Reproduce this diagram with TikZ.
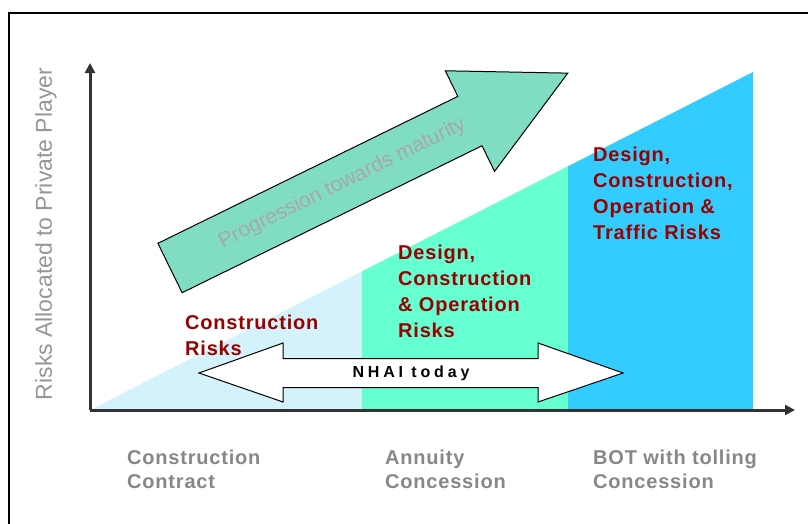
\documentclass[tikz,border=0pt]{standalone}
\usepackage{fontspec}
\setmainfont{Liberation Sans}
\newfontfamily\riskfont[LetterSpace=4]{Liberation Sans}
\newfontfamily\todayfont[LetterSpace=24]{Liberation Sans}
\usepackage{xcolor}
\usetikzlibrary{arrows.meta,calc}

\definecolor{riskred}{RGB}{153,0,0}
\definecolor{lightcyan}{RGB}{212,242,252}
\definecolor{seagreen}{RGB}{102,255,210}
\definecolor{skyblue}{RGB}{51,204,255}
\definecolor{arrowgreen}{RGB}{128,220,195}
\definecolor{axisgray}{RGB}{51,51,51}
\definecolor{schemegray}{RGB}{135,135,135}
\definecolor{ylabelgray}{RGB}{150,150,150}
\definecolor{progray}{RGB}{168,168,168}

\begin{document}
\begin{tikzpicture}[x=1pt,y=1pt,
  risk/.style={anchor=north west,inner sep=0pt,align=left,text=riskred,
    font=\riskfont\bfseries\fontsize{20}{26}\selectfont},
  scheme/.style={anchor=north west,inner sep=0pt,align=left,text=schemegray,
    font=\riskfont\bfseries\fontsize{20}{24}\selectfont},
  axis/.style={axisgray,line width=3pt,-{Triangle[length=10pt,width=10pt]}}]
\useasboundingbox (0,0) rectangle (808,-523);
\clip (0,0) rectangle (808,-523);
\draw [black,line width=1.5pt] (9,-13) rectangle (840,-560);
\coordinate (o) at (90,-410);
\coordinate (peak) at (753,-72);
\coordinate (s1) at ($(o)!0.41!(peak)$);
\coordinate (s2) at ($(o)!0.721!(peak)$);
\fill [lightcyan] (o) -- (s1) -- (s1 |- o) -- cycle;
\fill [seagreen] (s1 |- o) -- (s1) -- (s2) -- (s2 |- o) -- cycle;
\fill [skyblue] (s2 |- o) -- (s2) -- (peak) -- (peak |- o) -- cycle;
\draw [axis] (o) -- (90,-63);
\draw [axis] (o) -- (795,-410);
\node (ylabel) [rotate=90,inner sep=0pt,text=ylabelgray,font=\fontsize{23}{23}\selectfont] at (46,-234) {Risks Allocated to Private Player};
\begin{scope}[shift={(170,-268)},rotate=26.1]
\draw [black,line width=1pt,fill=arrowgreen] (0,27.5) -- (334,27.5) -- (334,56) -- (443,0) -- (334,-56) -- (334,-27.5) -- (0,-27.5) -- cycle;
\node (maturity) [rotate=26.1,text=progray,font=\fontsize{21}{21}\selectfont] at (192,0) {Progression towards maturity};
\end{scope}
\draw [black,line width=1pt,fill=white] (199,-373) -- (283,-343) -- (283,-358.5) -- (538,-358.5) -- (538,-343) -- (623,-373) -- (538,-402) -- (538,-387.5) -- (283,-387.5) -- (283,-402) -- cycle;
\node (today) [font=\todayfont\bfseries\fontsize{16}{16}\selectfont] at (411,-373) {NHAI today};
\node (crisks) [risk] at (185,-315) {Construction\\Risks};
\node (dcorisks) [risk] at (398,-245) {Design,\\Construction\\\& Operation\\Risks};
\node (dcotrisks) [risk] at (593,-147) {Design,\\Construction,\\Operation \&\\Traffic Risks};
\node (contract) [scheme] at (127,-450) {Construction\\Contract};
\node (annuity) [scheme] at (385,-450) {Annuity\\Concession};
\node (bot) [scheme] at (593,-450) {BOT with tolling\\Concession};
\end{tikzpicture}
\end{document}
